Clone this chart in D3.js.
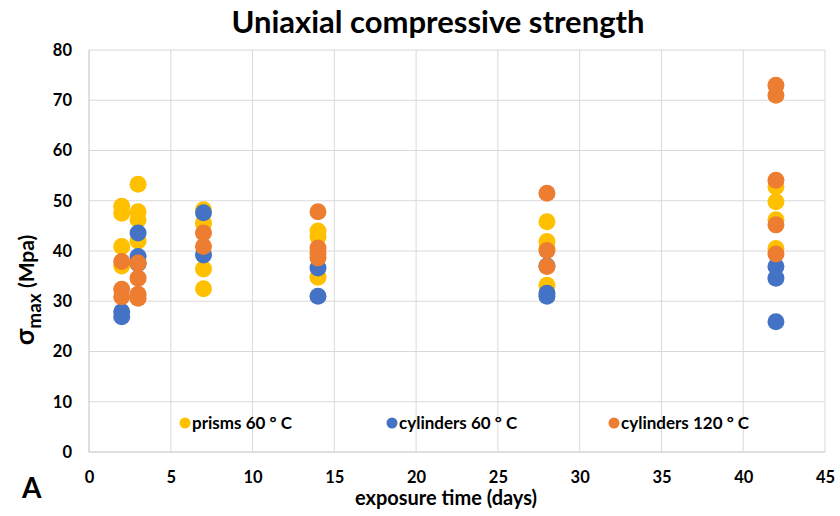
<!DOCTYPE html>
<html><head><meta charset="utf-8">
<script src="https://cdn.jsdelivr.net/npm/d3@7"></script>
<style>body{margin:0;background:#fff}svg{display:block}text{font-family:Lato,"Open Sans",sans-serif;font-weight:bold;fill:#000}</style>
</head><body><svg id="c" width="840" height="516"></svg>
<script>
const seriesNames = ["prisms 60 ° C", "cylinders 60 ° C", "cylinders 120 ° C"];
const seriesColors = ["#FFC000", "#4472C4", "#ED7D31"];
const prisms60 = [
  [2,48.9],[2,47.5],[2,40.9],[2,37.0],
  [3,53.3],[3,47.8],[3,46.2],[3,42.0],[3,37.5],
  [7,48.2],[7,45.5],[7,36.4],[7,32.5],
  [14,44.0],[14,42.8],[14,34.8],
  [28,45.8],[28,41.9],[28,40.5],[28,33.2],
  [42,52.8],[42,49.8],[42,46.2],[42,40.5]
];
const cylinders60 = [
  [2,27.9],[2,26.9],
  [3,43.6],[3,38.9],[3,37.5],
  [7,47.6],[7,39.2],
  [14,36.6],[14,31.0],
  [28,37.0],[28,31.6],[28,31.0],
  [42,36.9],[42,34.6],[42,25.9]
];
const cylinders120 = [
  [2,37.9],[2,32.4],[2,30.9],
  [3,37.6],[3,34.6],[3,31.4],[3,30.6],
  [7,43.6],[7,40.9],
  [14,47.8],[14,40.6],[14,39.6],[14,38.6],
  [28,51.5],[28,40.1],[28,36.9],
  [42,73.0],[42,71.0],[42,54.1],[42,45.2],[42,39.4]
];
const xTicks = [0,5,10,15,20,25,30,35,40,45];
const yTicks = [0,10,20,30,40,50,60,70,80];

const svg = d3.select("#c");
const x = d3.scaleLinear().domain([0,45]).range([89,825]);
const y = d3.scaleLinear().domain([0,80]).range([452,50]);
const grid = "#d9d9d9";

svg.append("g").selectAll("line").data(yTicks).join("line")
  .attr("x1",x(0)).attr("x2",x(45)).attr("y1",d=>y(d)).attr("y2",d=>y(d))
  .attr("stroke",d=>d===0?"#bfbfbf":grid).attr("stroke-width",1);
svg.append("g").selectAll("line").data(xTicks).join("line")
  .attr("y1",y(0)).attr("y2",y(80)).attr("x1",d=>x(d)).attr("x2",d=>x(d))
  .attr("stroke",d=>d===0?"#bfbfbf":grid).attr("stroke-width",1);

const xAxis = d3.axisBottom(x).tickValues(xTicks).tickSize(0).tickPadding(19);
svg.append("g").attr("transform",`translate(0,${y(0)})`).call(xAxis)
  .call(g=>g.select(".domain").remove())
  .selectAll("text").style("font-size","16.5px").attr("fill","#000");
const yAxis = d3.axisLeft(y).tickValues(yTicks).tickSize(0).tickPadding(17);
svg.append("g").attr("transform",`translate(${x(0)},0)`).call(yAxis)
  .call(g=>g.select(".domain").remove())
  .selectAll("text").style("font-size","16.5px").attr("fill","#000");

const all = [prisms60, cylinders60, cylinders120];
all.forEach((s,i)=>{
  svg.append("g").selectAll("circle").data(s).join("circle")
    .attr("cx",d=>x(d[0])).attr("cy",d=>y(d[1])).attr("r",8.5)
    .attr("fill",seriesColors[i]);
});

// legend
const legX = [185, 392, 614];
seriesNames.forEach((n,i)=>{
  svg.append("circle").attr("cx",legX[i]).attr("cy",423).attr("r",5.5).attr("fill",seriesColors[i]);
  svg.append("text").attr("x",legX[i]+7).attr("y",429).style("font-size","17px").text(n);
});

svg.append("text").attr("x",438).attr("y",33).attr("text-anchor","middle")
  .style("font-size","31px").text("Uniaxial compressive strength");
svg.append("text").attr("x",446).attr("y",505).attr("text-anchor","middle")
  .style("font-size","20px").text("exposure time (days)");
const yl = svg.append("text").attr("transform","translate(34,290) rotate(-90)")
  .attr("text-anchor","middle").style("font-size","21px");
yl.append("tspan").text("σ").style("font-size","27px");
yl.append("tspan").text("max").attr("dy",7).style("font-size","19px");
yl.append("tspan").text(" (Mpa)").attr("dy",-7);
svg.append("text").attr("x",22).attr("y",498).style("font-size","28px").text("A");
</script></body></html>
